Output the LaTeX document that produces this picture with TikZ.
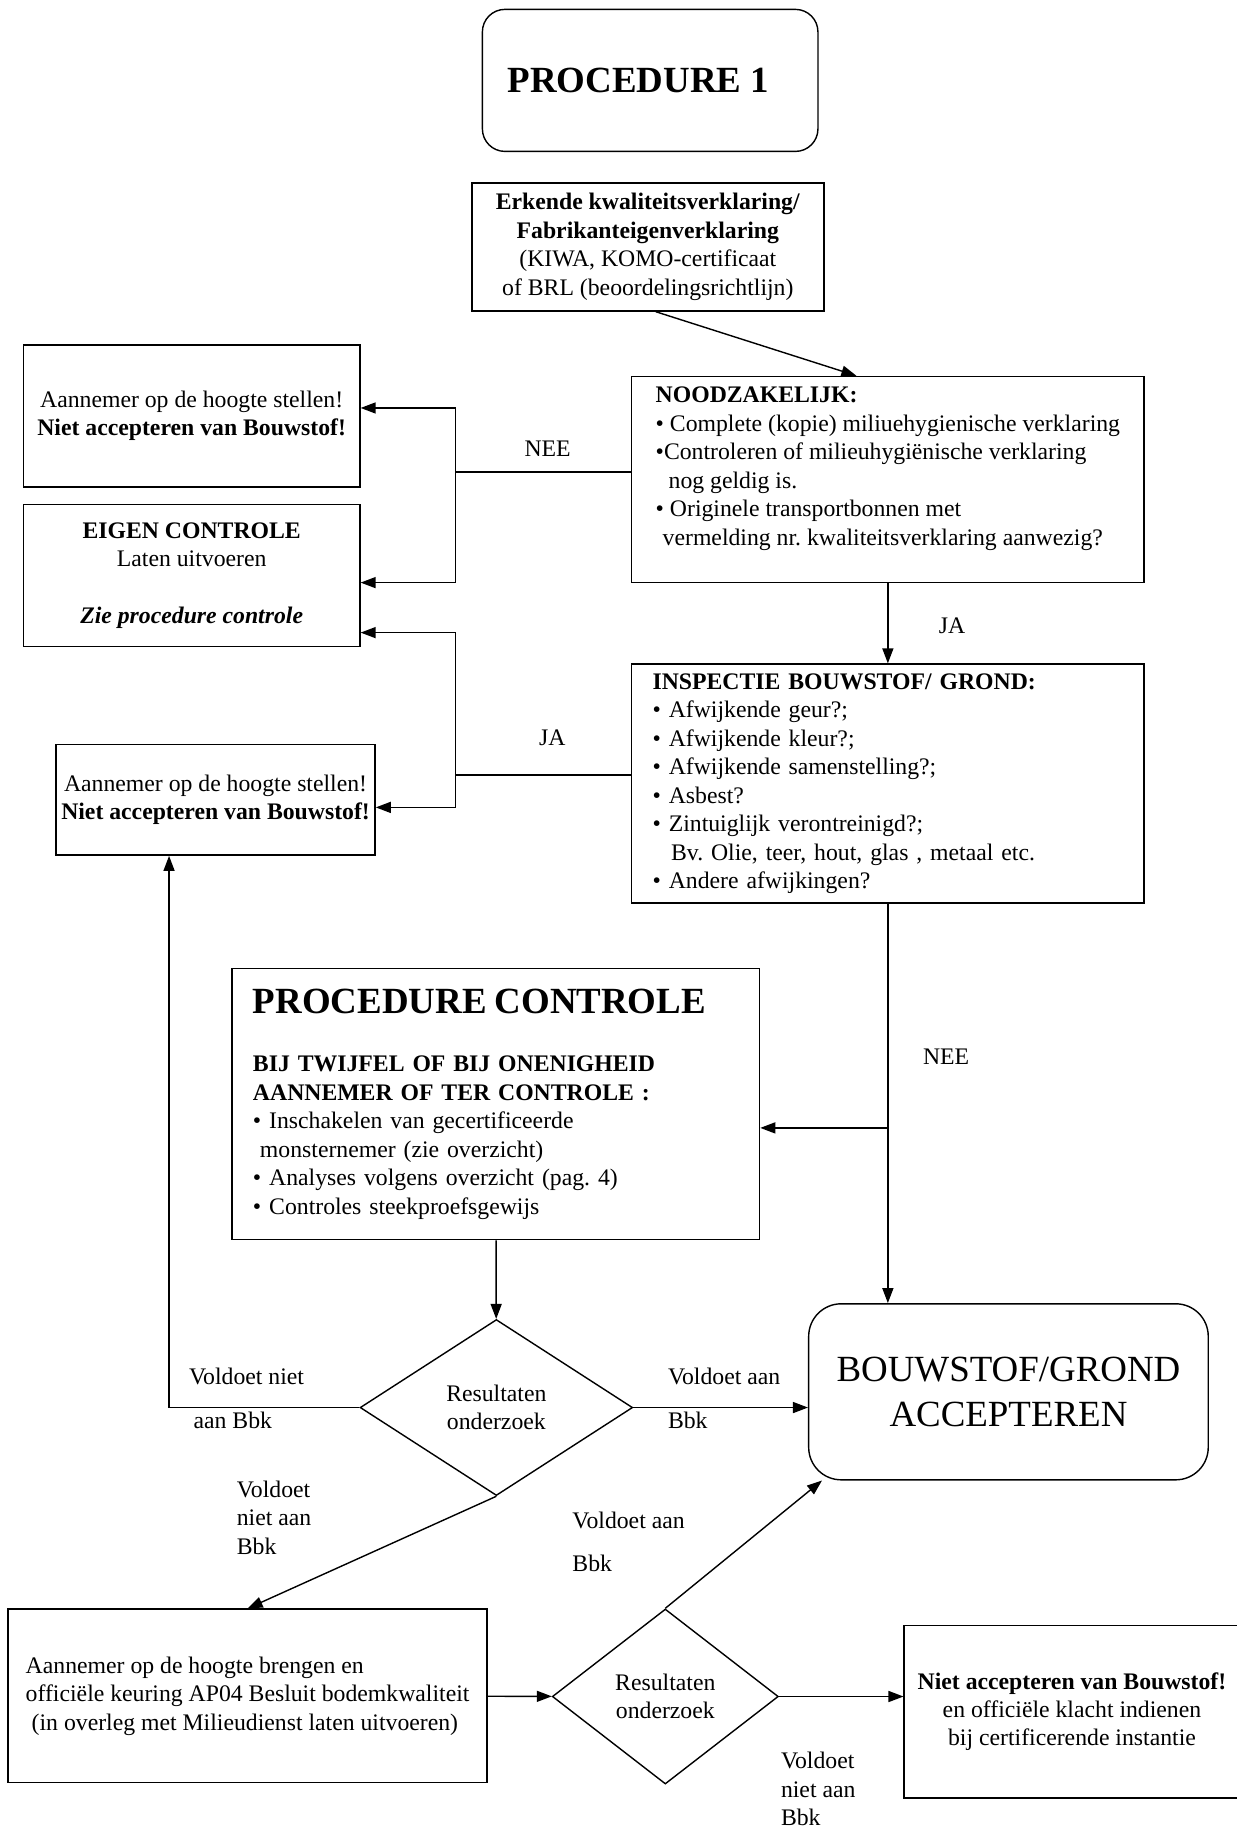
\documentclass[tikz,border=0pt]{standalone}
\usepackage{fontspec}
\setmainfont{Liberation Serif}
\frenchspacing
\usetikzlibrary{shapes.geometric, arrows.meta, positioning, calc}
\tikzstyle{block} = [rectangle, draw, thick, align=center, inner sep=0pt]
\tikzstyle{listblock} = [rectangle, draw, thick, align=left, inner xsep=0.42cm, inner ysep=0pt]
\tikzstyle{endblock} = [rectangle, draw, thick, rounded corners=0.65cm, align=center, inner sep=0pt]
\tikzstyle{decision} = [diamond, draw, thick, align=center, inner sep=0pt]
\tikzstyle{answer} = [align=left, inner sep=0pt]
\tikzstyle{arrow} = [-{Triangle[length=0.3cm, width=0.22cm]}, thick]
\tikzstyle{connector} = [thick]

\begin{document}
\begin{tikzpicture}[x=0.0233cm, y=-0.0233cm, every node/.style={font=\fontsize{13.5}{16.2}\selectfont}]
    \useasboundingbox (0,0) rectangle (1061,1568);

    % Start
    \node[block, rounded corners=0.45cm, minimum width=6.71cm, minimum height=2.84cm, font=\fontsize{21}{25}\selectfont\bfseries] (proc1) at (558,69) {PROCEDURE 1\hspace*{0.47cm}};
    \node[block, minimum width=7.04cm, minimum height=2.56cm] (erkend) at (556,212) {\textbf{Erkende kwaliteitsverklaring/}\\\textbf{Fabrikanteigenverklaring}\\(KIWA, KOMO-certificaat\\of BRL (beoordelingsrichtlijn)};

    % First check
    \node[block, align=left, minimum width=10.25cm, minimum height=4.12cm] (nood) at (762,411.5) {\textbf{NOODZAKELIJK:}\\
        • Complete (kopie) miliuehygienische verklaring\\
        •Controleren of milieuhygiënische verklaring\\
        \hspace*{0.26cm}nog geldig is.\\
        • Originele transportbonnen met\\
        \hspace*{0.14cm}vermelding nr. kwaliteitsverklaring aanwezig?\\[-6pt]
        \strut};
    \node[block, minimum width=6.73cm, minimum height=2.84cm] (info1) at (164.5,357) {Aannemer op de hoogte stellen!\\\textbf{Niet accepteren van Bouwstof!}};
    \node[block, minimum width=6.73cm, minimum height=2.84cm] (eigen) at (164.5,494) {\textbf{EIGEN CONTROLE}\\Laten uitvoeren\\[16.2pt]\textbf{\textit{Zie procedure controle}}};

    % Inspection
    \node[listblock, text width=9.41cm, minimum height=4.78cm] (insp) at (762,672.5) {\textbf{INSPECTIE BOUWSTOF/ GROND:}\\
        • Afwijkende geur?;\\
        • Afwijkende kleur?;\\
        • Afwijkende samenstelling?;\\
        • Asbest?\\
        • Zintuiglijk verontreinigd?;\\
        \hspace*{0.37cm}Bv. Olie, teer, hout, glas , metaal etc.\\
        • Andere afwijkingen?};
    \node[block, minimum width=6.38cm, minimum height=2.21cm] (info2) at (185,686.5) {Aannemer op de hoogte stellen!\\\textbf{Niet accepteren van Bouwstof!}};

    % Control procedure
    \node[listblock, text width=9.71cm, minimum height=5.43cm] (pcontrol) at (425.5,947.5) {{\fontsize{21}{25}\selectfont\bfseries PROCEDURE CONTROLE}\\[0.6cm]
        \textbf{BIJ TWIJFEL OF BIJ ONENIGHEID}\\
        \textbf{AANNEMER OF TER CONTROLE :}\\
        • Inschakelen van gecertificeerde\\
        \hspace*{0.14cm}monsternemer (zie overzicht)\\
        • Analyses volgens overzicht (pag. 4)\\
        • Controles steekproefsgewijs};
    \node[decision, minimum width=5.45cm, minimum height=3.52cm] (d1) at (426,1208) {Resultaten\\onderzoek};
    \node[endblock, minimum width=7.99cm, minimum height=3.52cm, font=\fontsize{21}{25.8}\selectfont] (accept) at (865.5,1194.5) {BOUWSTOF/GROND\\ACCEPTEREN};

    % Official inspection
    \node[block, align=left, minimum width=9.58cm, minimum height=3.47cm] (boxB) at (212.5,1455.5) {Aannemer op de hoogte brengen en\\
        officiële keuring AP04 Besluit bodemkwaliteit\\
        \hspace*{0.12cm}(in overleg met Milieudienst laten uitvoeren)};
    \node[decision, minimum width=4.52cm, minimum height=3.5cm] (d2) at (571,1456) {Resultaten\\onderzoek};
    \node[block, minimum width=6.71cm, minimum height=3.45cm] (boxC) at (920,1469) {\textbf{Niet accepteren van Bouwstof!}\\en officiële klacht indienen\\bij certificerende instantie};

    % Junctions
    \coordinate (neeknik) at (391,405);
    \coordinate (jaknik) at (391,665);
    \coordinate (neesplit) at (762,968);

    % Connectors
    \draw[arrow] ([xshift=0.16cm]erkend.south) -- ([xshift=-0.63cm]nood.north);
    \draw[connector] (neeknik -| nood.west) -- (neeknik);
    \draw[arrow] (neeknik) |- ([yshift=0.16cm]info1.east);
    \draw[arrow] (neeknik) |- ([yshift=-0.14cm]eigen.east);
    \draw[arrow] (nood) -- (insp);
    \draw[connector] (jaknik -| insp.west) -- (jaknik);
    \draw[arrow] (jaknik) |- ([yshift=-1.14cm]eigen.east);
    \draw[arrow] (jaknik) |- ([yshift=-0.15cm]info2.east);
    \draw[arrow] (insp.south) -- (insp.south |- accept.north);
    \draw[arrow] (neesplit) -- (neesplit -| pcontrol.east);
    \draw[arrow] (pcontrol) -- (d1);
    \draw[arrow] (d1.west) -| ([xshift=-0.93cm]info2.south);
    \draw[arrow] (d1.east) -- (d1.east -| accept.west);
    \draw[arrow] (d1.south) -- (boxB.north);
    \draw[arrow] (boxB) -- (d2);
    \draw[arrow] (d2.north) -- ([xshift=0.28cm]accept.south west);
    \draw[arrow] (d2.east) -- (d2.east -| boxC.west);

    % Labels
    \node[answer] (nee1) at (470,385) {NEE};
    \node[answer] (ja1) at (817,537) {JA};
    \node[answer] (ja2) at (474,633) {JA};
    \node[answer] (nee2) at (812,907) {NEE};
    \node[answer, anchor=west] (nietbbk1) at (162,1200) {Voldoet niet\\[0.32cm]\hspace*{0.09cm}aan Bbk};
    \node[answer, anchor=west] (welbbk1) at (573,1200) {Voldoet aan\\[0.32cm]Bbk};
    \node[answer, anchor=west] (nietbbk2) at (203,1302.5) {Voldoet\\niet aan\\Bbk};
    \node[answer, anchor=west] (welbbk2) at (491,1323.5) {Voldoet aan\\[0.3cm]Bbk};
    \node[answer, anchor=west] (nietbbk3) at (670,1535.5) {Voldoet\\niet aan\\Bbk};
\end{tikzpicture}
\end{document}
